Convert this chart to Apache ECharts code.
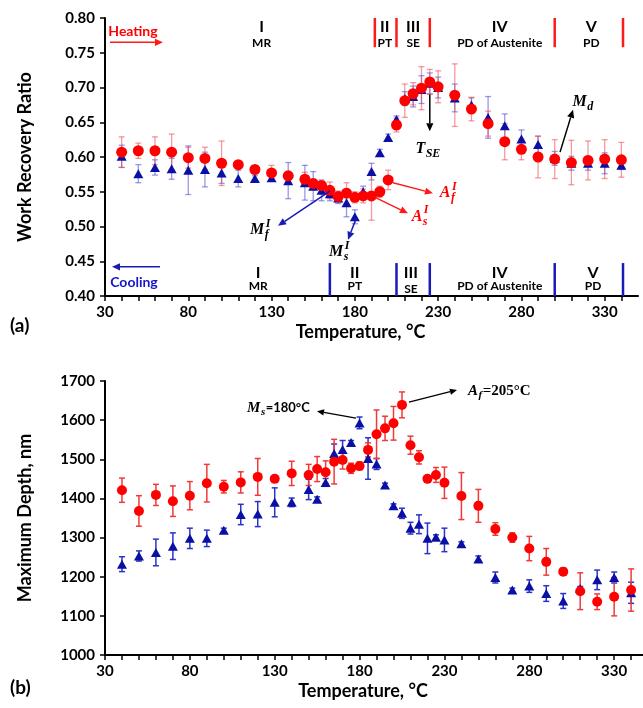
<!DOCTYPE html>
<html><head><meta charset="utf-8">
<script src="https://cdn.jsdelivr.net/npm/echarts@6/dist/echarts.min.js"></script>
<style>html,body{margin:0;padding:0;background:#fff}#c{width:643px;height:708px}</style>
</head><body><div id="c"></div>
<script>
// ---------------- DATA ----------------
const TEMPS = [40,50,60,70,80,90,100,110,120,130,140,150,155,160,165,170,175,180,185,190,195,200,205,210,215,220,225,230,240,250,260,270,280,290,300,310,320,330,340];

// (a) Work recovery ratio – heating (red) and cooling (blue)
const WRR_HEAT = [0.607,0.609,0.609,0.607,0.599,0.598,0.591,0.589,0.582,0.577,0.573,0.568,0.562,0.559,0.552,0.543,0.548,0.542,0.544,0.544,0.550,0.567,0.646,0.681,0.691,0.699,0.708,0.701,0.689,0.669,0.648,0.622,0.611,0.600,0.597,0.592,0.595,0.597,0.596];
const WRR_HEAT_ERR = [0.022,0.011,0.020,0.026,0.015,0.016,0.032,0.004,0.004,0.011,0.005,0.010,0.006,0.006,0.012,0.008,0.015,0.008,0.010,0.035,0.008,0.014,0.010,0.024,0.016,0.031,0.018,0.023,0.045,0.017,0.018,0.026,0.015,0.030,0.028,0.032,0.028,0.028,0.025];
const WRR_COOL = [0.601,0.576,0.585,0.583,0.581,0.582,0.577,0.569,0.569,0.570,0.566,0.563,0.558,0.552,0.547,0.541,0.534,0.514,0.550,0.579,0.606,0.628,0.654,0.684,0.687,0.697,0.706,0.700,0.685,0.675,0.657,0.645,0.626,0.618,0.598,0.591,0.591,0.591,0.588];
const WRR_COOL_ERR = [0.016,0.013,0.011,0.015,0.035,0.025,0.015,0.012,0.004,0.004,0.026,0.025,0.021,0.015,0.010,0.008,0.020,0.010,0.008,0.012,0.005,0.005,0.005,0.010,0.015,0.020,0.015,0.015,0.020,0.010,0.030,0.017,0.013,0.012,0.010,0.010,0.010,0.015,0.006];

// (b) Maximum depth, nm – heating (red) and cooling (blue)
const DEPTH_HEAT = [1421,1368,1409,1393,1407,1439,1430,1441,1455,1450,1464,1460,1475,1467,1494,1498,1477,1483,1524,1564,1579,1592,1639,1536,1505,1450,1460,1440,1406,1381,1322,1300,1272,1238,1213,1163,1136,1149,1166];
const DEPTH_HEAT_ERR = [31,39,27,39,36,48,16,27,47,6,31,27,32,29,57,23,13,10,18,62,31,43,33,23,17,8,19,40,60,42,16,12,31,34,9,47,20,49,54];
const DEPTH_COOL = [1232,1253,1262,1278,1298,1298,1319,1359,1360,1390,1390,1423,1398,1441,1515,1525,1543,1593,1502,1488,1434,1381,1362,1324,1334,1298,1301,1294,1284,1245,1198,1166,1176,1157,1138,1170,1192,1198,1159];
const DEPTH_COOL_ERR = [19,13,34,34,26,21,5,26,32,37,11,26,6,10,24,23,5,15,53,14,5,5,13,15,24,39,6,30,5,8,14,5,16,20,19,5,25,14,27];

// Tick labels
const X_LABELS = [30,80,130,180,230,280,330];

// Region boundaries (°C)
const HEAT_BOUNDS = [192,205,225,300,341];
const COOL_BOUNDS = [165,205,225,300,341];
// Region labels [temperature, numeral, name]
const HEAT_REGIONS = [[124,'I','MR'],[198,'II','PT'],[215,'III','SE'],[267,'IV','PD of Austenite'],[322,'V','PD']];
const COOL_REGIONS = [[122,'I','MR'],[180,'II','PT'],[213.7,'III','SE'],[267,'IV','PD of Austenite'],[323,'V','PD']];

// Annotation arrows (data coords) [x1,y1,x2,y2]
const ARROWS_A_BLACK = [[225,0.690,225,0.637],[303.2,0.607,311,0.668]];
const ARROWS_A_BLUE = [[165,0.551,133.9,0.501],[180.7,0.511,175.9,0.481],[63,0.442,34.2,0.442]];
const ARROWS_A_RED = [[202.9,0.563,226.9,0.548],[192.1,0.542,211.9,0.519],[33,0.765,64.8,0.765]];
const ARROWS_B_BLACK = [[177.9,1605,154.9,1623],[209.1,1646,237.4,1677]];

// Math labels
const LABELS_A = [
  {x:224,y:0.612,base:'T',sub:'SE',color:'#000'},
  {x:317,y:0.679,base:'M',sub:'d',color:'#000'},
  {x:123,y:0.495,base:'M',sub:'f',sup:'I',color:'#000'},
  {x:170.5,y:0.463,base:'M',sub:'s',sup:'I',color:'#000'},
  {x:235.9,y:0.548,base:'A',sub:'f',sup:'I',color:'#ff0000'},
  {x:219,y:0.514,base:'A',sub:'s',sup:'I',color:'#ff0000'}
];
const LABELS_B = [
  {x:113.7,y:1631,base:'M',sub:'s',tail:'=180°C',tailSans:true,align:'left',color:'#000',size:15},
  {x:243.9,y:1674.5,base:'A',sub:'f',tail:'=205°C',tailSans:false,align:'left',color:'#000',size:15}
];

// ---------------- STYLE ----------------
const SANS = 'Lato';
const RED = '#ff0000', BLUE = '#0a0fa6';
const chart = echarts.init(document.getElementById('c'), null, {renderer:'canvas'});

const mctx = document.createElement('canvas').getContext('2d');
function tw(t, f){ mctx.font = f; return mctx.measureText(t).width; }

function errRender(capW, color, lw){
  return function(params, api){
    const x = api.value(0), y = api.value(1), e = api.value(2);
    const p1 = api.coord([x, y - e]), p2 = api.coord([x, y + e]);
    const h = capW/2, st = {stroke:color, lineWidth:lw};
    return {type:'group', children:[
      {type:'line', shape:{x1:p1[0],y1:p1[1],x2:p2[0],y2:p2[1]}, style:st},
      {type:'line', shape:{x1:p1[0]-h,y1:p1[1],x2:p1[0]+h,y2:p1[1]}, style:st},
      {type:'line', shape:{x1:p2[0]-h,y1:p2[1],x2:p2[0]+h,y2:p2[1]}, style:st}
    ]};
  };
}
function arrowRender(color, lw, head){
  return function(params, api){
    const a = api.coord([api.value(0), api.value(1)]);
    const b = api.coord([api.value(2), api.value(3)]);
    const dx = b[0]-a[0], dy = b[1]-a[1], L = Math.hypot(dx,dy);
    const ux = dx/L, uy = dy/L, hl = head, hw = head*0.45;
    const bx = b[0]-ux*hl, by = b[1]-uy*hl;
    return {type:'group', children:[
      {type:'line', shape:{x1:a[0],y1:a[1],x2:bx,y2:by}, style:{stroke:color,lineWidth:lw}},
      {type:'polygon', shape:{points:[[b[0],b[1]],[bx-uy*hw,by+ux*hw],[bx+uy*hw,by-ux*hw]]}, style:{fill:color}}
    ]};
  };
}
function vlineRender(color, lw){
  return function(params, api){
    const a = api.coord([api.value(0), api.value(1)]);
    const b = api.coord([api.value(0), api.value(2)]);
    return {type:'line', shape:{x1:a[0],y1:a[1],x2:b[0],y2:b[1]}, style:{stroke:color,lineWidth:lw}};
  };
}
function txt(text, x, y, font, fill, align){
  return {type:'text', style:{text:text, x:x, y:y, font:font, fill:fill, align:align||'left', verticalAlign:'middle', textAlign:align||'left', textVerticalAlign:'middle'}};
}
function mathRender(list){
  return function(params, api){
    const spec = list[params.dataIndex];
    const p = api.coord([api.value(0), api.value(1)]);
    const s = spec.size || 16;
    const bf = `italic bold ${s}px "Liberation Serif"`;
    const sf = `italic bold ${Math.round(s*0.72)}px "Liberation Serif"`;
    const tf = spec.tailSans ? `bold ${s-2}px ${SANS}` : `bold ${s}px "Liberation Serif"`;
    const bw = tw(spec.base, bf);
    const sw = Math.max(spec.sub ? tw(spec.sub, sf) : 0, spec.sup ? tw(spec.sup, sf) : 0);
    const tl = spec.tail ? tw(spec.tail, tf) : 0;
    const total = bw + sw + 1 + tl;
    const x0 = spec.align === 'left' ? p[0] : p[0] - total/2;
    const ch = [txt(spec.base, x0, p[1], bf, spec.color)];
    if (spec.sub) ch.push(txt(spec.sub, x0+bw+0.5, p[1]+s*0.3, sf, spec.color));
    if (spec.sup) ch.push(txt(spec.sup, x0+bw+1.5, p[1]-s*0.4, sf, spec.color));
    if (spec.tail) ch.push(txt(spec.tail, x0+bw+sw+1, p[1], tf, spec.color));
    return {type:'group', children:ch};
  };
}
function regionRender(list, yNum, yName, yNameSE){
  return function(params, api){
    const r = list[params.dataIndex];
    const p1 = api.coord([r[0], yNum]);
    const p2 = api.coord([r[0], r[2]==='SE' ? yNameSE : yName]);
    return {type:'group', children:[
      txt(r[1], p1[0], p1[1], `bold 16px ${SANS}`, '#000', 'center'),
      txt(r[2], p2[0], p2[1], `bold 12px ${SANS}`, '#000', 'center')
    ]};
  };
}
function plainTextRender(items){
  return function(params, api){
    const it = items[params.dataIndex];
    const p = api.coord([api.value(0), api.value(1)]);
    return txt(it.text, p[0], p[1], it.font, it.color, 'center');
  };
}

const xLabelFmt = v => X_LABELS.indexOf(Math.round(v)) >= 0 && Math.abs(v-Math.round(v))<1e-6 ? String(Math.round(v)) : '';
const axisFont = {fontFamily:SANS, fontWeight:'bold', fontSize:15, color:'#000'};
const nameFont = {fontFamily:SANS, fontWeight:'bold', fontSize:18, color:'#000'};
function xAxis(grid, max){
  return {type:'value', gridIndex:grid, min:30, max:max, interval:10,
    name:'Temperature, °C', nameLocation:'middle', nameGap:27, nameTextStyle:Object.assign({padding:[0,22,0,0]}, nameFont),
    axisLine:{lineStyle:{color:'#000', width:2}}, axisTick:{length:5, lineStyle:{color:'#000', width:1.5}},
    splitLine:{show:false}, axisLabel:Object.assign({margin:9, formatter:xLabelFmt, showMaxLabel:false}, axisFont)};
}
function yAxis(grid, min, max, iv, name, fmt){
  return {type:'value', gridIndex:grid, min:min, max:max, interval:iv, name:name, nameLocation:'middle', nameGap:71,
    nameTextStyle:nameFont, axisLine:{show:true, lineStyle:{color:'#000', width:2}},
    axisTick:{show:true, length:5, lineStyle:{color:'#000', width:1.5}}, splitLine:{show:false},
    axisLabel:Object.assign({margin:10, formatter:fmt}, axisFont)};
}

const HEAT_COOL_TEXT = [
  {text:'Heating', font:`bold 14px ${SANS}`, color:RED},
  {text:'Cooling', font:`bold 14px ${SANS}`, color:'#1414c8'}
];

const zip = (a,b,c) => TEMPS.map((t,i)=> c ? [t, a[i], c[i]] : [t, a[i]]);

const option = {
  animation:false,
  grid:[{left:105, top:18, width:533, height:278}, {left:105, top:381, width:538, height:274}],
  xAxis:[xAxis(0, 350), xAxis(1, 347)],
  yAxis:[yAxis(0, 0.4, 0.8, 0.05, 'Work Recovery Ratio', v=>v.toFixed(2)),
         yAxis(1, 1000, 1700, 100, 'Maximum Depth, nm', v=>String(v))],
  graphic:[
    {type:'text', left:10, top:316, style:{text:'(a)', font:`bold 19px ${SANS}`, fill:'#000'}},
    {type:'text', left:10, top:678, style:{text:'(b)', font:`bold 19px ${SANS}`, fill:'#000'}}
  ],
  series:[
    // ---- (a) ----
    {type:'custom', xAxisIndex:0, yAxisIndex:0, renderItem:errRender(6,'rgba(70,70,210,0.55)',1.3), data:zip(WRR_COOL,null,WRR_COOL_ERR), z:2, silent:true},
    {type:'custom', xAxisIndex:0, yAxisIndex:0, renderItem:errRender(6,'rgba(240,70,80,0.55)',1.3), data:zip(WRR_HEAT,null,WRR_HEAT_ERR), z:2, silent:true},
    {type:'scatter', xAxisIndex:0, yAxisIndex:0, symbol:'triangle', symbolSize:[10,9], itemStyle:{color:BLUE, opacity:1}, data:zip(WRR_COOL), z:3},
    {type:'scatter', xAxisIndex:0, yAxisIndex:0, symbol:'circle', symbolSize:11, itemStyle:{color:RED, opacity:1}, data:zip(WRR_HEAT), z:4},
    {type:'custom', xAxisIndex:0, yAxisIndex:0, renderItem:vlineRender('#ff1a1a',2.5), data:HEAT_BOUNDS.map(b=>[b,0.8,0.758]), z:5, silent:true, clip:false},
    {type:'custom', xAxisIndex:0, yAxisIndex:0, renderItem:vlineRender('#1a1ab8',2.5), data:COOL_BOUNDS.map(b=>[b,0.4,0.4474]), z:5, silent:true, clip:false},
    {type:'custom', xAxisIndex:0, yAxisIndex:0, renderItem:regionRender(HEAT_REGIONS,0.787,0.764,0.764), data:HEAT_REGIONS.map(r=>[r[0],0.787]), z:6, silent:true},
    {type:'custom', xAxisIndex:0, yAxisIndex:0, renderItem:regionRender(COOL_REGIONS,0.433,0.414,0.410), data:COOL_REGIONS.map(r=>[r[0],0.433]), z:6, silent:true},
    {type:'custom', xAxisIndex:0, yAxisIndex:0, renderItem:arrowRender('#000',1.5,8), data:ARROWS_A_BLACK, z:6, silent:true},
    {type:'custom', xAxisIndex:0, yAxisIndex:0, renderItem:arrowRender('#1a1ab8',1.5,8), data:ARROWS_A_BLUE, z:6, silent:true},
    {type:'custom', xAxisIndex:0, yAxisIndex:0, renderItem:arrowRender('#ff1a1a',1.5,8), data:ARROWS_A_RED, z:6, silent:true},
    {type:'custom', xAxisIndex:0, yAxisIndex:0, renderItem:mathRender(LABELS_A), data:LABELS_A.map(l=>[l.x,l.y]), z:7, silent:true},
    {type:'custom', xAxisIndex:0, yAxisIndex:0, renderItem:plainTextRender(HEAT_COOL_TEXT), data:[[46.8,0.781],[47.4,0.419]], z:7, silent:true},
    // ---- (b) ----
    {type:'custom', xAxisIndex:1, yAxisIndex:1, renderItem:errRender(6,'#2a34c8',1.5), data:zip(DEPTH_COOL,null,DEPTH_COOL_ERR), z:2, silent:true},
    {type:'custom', xAxisIndex:1, yAxisIndex:1, renderItem:errRender(6,'#f03a3a',1.5), data:zip(DEPTH_HEAT,null,DEPTH_HEAT_ERR), z:2, silent:true},
    {type:'scatter', xAxisIndex:1, yAxisIndex:1, symbol:'triangle', symbolSize:[10,9], itemStyle:{color:BLUE, opacity:1}, data:zip(DEPTH_COOL), z:3},
    {type:'scatter', xAxisIndex:1, yAxisIndex:1, symbol:'circle', symbolSize:10, itemStyle:{color:RED, opacity:1}, data:zip(DEPTH_HEAT), z:4},
    {type:'custom', xAxisIndex:1, yAxisIndex:1, renderItem:arrowRender('#000',1.3,7), data:ARROWS_B_BLACK, z:6, silent:true},
    {type:'custom', xAxisIndex:1, yAxisIndex:1, renderItem:mathRender(LABELS_B), data:LABELS_B.map(l=>[l.x,l.y]), z:7, silent:true}
  ]
};
chart.setOption(option);
</script></body></html>
